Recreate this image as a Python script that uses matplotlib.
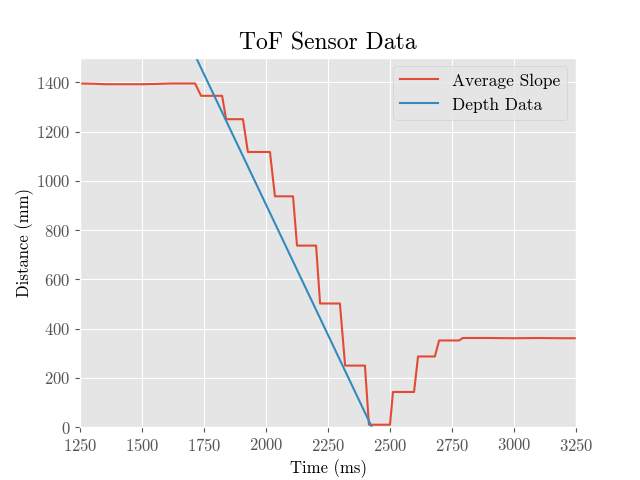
import matplotlib
matplotlib.use('Agg')
import matplotlib.pyplot as plt

plt.style.use('ggplot')
plt.rcParams['font.family'] = 'serif'
plt.rcParams['font.serif'] = ['cmr10']
plt.rcParams['mathtext.fontset'] = 'cm'
plt.rcParams['axes.formatter.use_mathtext'] = True
plt.rcParams['font.size'] = 12

# Average slope (step-like) readings
slope_time = [1250, 1300, 1350, 1400, 1500, 1550, 1620, 1714, 1738, 1823, 1839, 1907,
              1927, 2016, 2036, 2109, 2125, 2202, 2218, 2298, 2319, 2399, 2415, 2500,
              2512, 2597, 2613, 2681, 2698, 2779, 2793, 2900, 3000, 3100, 3200, 3250]
slope_dist = [1395, 1394, 1392, 1392, 1392, 1393, 1395, 1395, 1345, 1345, 1250, 1250,
              1117, 1117, 937, 937, 737, 737, 502, 502, 250, 250, 10, 10,
              143, 143, 287, 287, 352, 352, 362, 362, 361, 362, 361, 361]

# Depth data (linear)
depth_time = [1600, 2427]
depth_dist = [1750, 0]

fig, ax = plt.subplots(figsize=(6.4, 4.8), dpi=100)
ax.plot(slope_time, slope_dist, label='Average Slope')
ax.plot(depth_time, depth_dist, label='Depth Data')
ax.set_xlim(1250, 3250)
ax.set_ylim(0, 1500)
ax.set_xlabel('Time (ms)', fontsize=12, color='black')
ax.set_ylabel('Distance (mm)', fontsize=12, color='black', labelpad=1.5)
ax.set_title('ToF Sensor Data', fontsize=17)
ax.legend(fontsize=12.5, handlelength=2.2)

plt.savefig('out.png', dpi=100)
